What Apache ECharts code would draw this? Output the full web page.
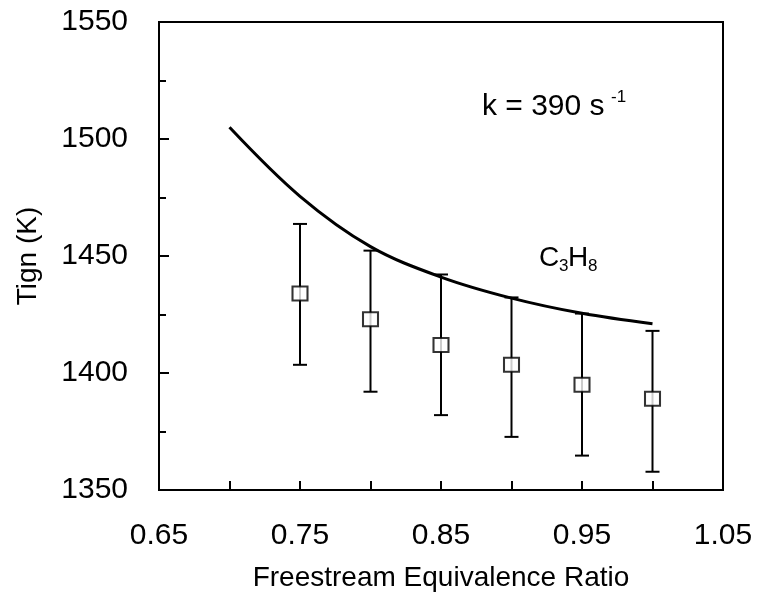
<!DOCTYPE html>
<html>
<head>
<meta charset="utf-8">
<script src="https://cdn.jsdelivr.net/npm/echarts@6/dist/echarts.min.js"></script>
<style>html,body{margin:0;padding:0;background:#fff;}#c{width:768px;height:602px;}</style>
</head>
<body>
<div id="c"></div>
<script>
// Measured data (freestream equivalence ratio vs ignition temperature)
const phi = [0.75, 0.80, 0.85, 0.90, 0.95, 1.00];
const tignMean = [1434, 1423, 1412, 1403.5, 1395, 1389];
const tignLow = [1403.5, 1392, 1382, 1372.7, 1364.7, 1357.8];
const tignHigh = [1463.7, 1452.3, 1442.1, 1432.3, 1425.4, 1418];
// Computed curve
const modelPhi = [0.70, 0.75, 0.80, 0.85, 0.90, 0.95, 1.00];
const modelTign = [1505, 1475.5, 1454, 1441, 1432, 1425.5, 1421];
// Axes
const xMin = 0.65, xMax = 1.05, xStep = 0.05;
const yMin = 1350, yMax = 1550, yStep = 50;
const xTitle = 'Freestream Equivalence Ratio';
const yTitle = 'Tign (K)';

const FONT = '"Liberation Sans", Arial, Helvetica, sans-serif';
const chart = echarts.init(document.getElementById('c'), null, {renderer: 'canvas'});

const option = {
  backgroundColor: '#fff',
  animation: false,
  grid: {left: 159, right: 45, top: 22, bottom: 112, show: true, borderColor: '#000', borderWidth: 2, backgroundColor: 'transparent'},
  xAxis: {
    type: 'value', min: xMin, max: xMax, interval: xStep,
    name: xTitle, nameLocation: 'middle', nameGap: 74,
    nameTextStyle: {fontSize: 28, color: '#000', fontFamily: FONT},
    axisLine: {show: true, lineStyle: {color: '#000', width: 2}},
    axisTick: {show: true, inside: true, length: 9, lineStyle: {color: '#000', width: 2}},
    splitLine: {show: false},
    axisLabel: {
      margin: 31, fontSize: 30, color: '#000', fontFamily: FONT,
      formatter: function (v) {
        const k = Math.round(v * 100);
        return (k % 10 === 5) ? (k / 100).toFixed(2) : '';
      }
    }
  },
  yAxis: {
    type: 'value', min: yMin, max: yMax, interval: yStep,
    name: yTitle, nameLocation: 'middle', nameGap: 117,
    nameTextStyle: {fontSize: 28, color: '#000', fontFamily: FONT},
    axisLine: {show: true, lineStyle: {color: '#000', width: 2}},
    axisTick: {show: true, inside: true, length: 10, lineStyle: {color: '#000', width: 2}},
    minorTick: {show: true, splitNumber: 2, length: 7, lineStyle: {color: '#000', width: 2}},
    splitLine: {show: false},
    minorSplitLine: {show: false},
    axisLabel: {margin: 31, fontSize: 30, color: '#000', fontFamily: FONT,
      formatter: function (v) { return String(Math.round(v)); }}
  },
  series: [
    {
      type: 'line', smooth: 0.35, showSymbol: false,
      data: modelPhi.map((x, i) => [x, modelTign[i]]),
      lineStyle: {color: '#000', width: 3}
    },
    {
      type: 'custom',
      data: phi.map((x, i) => [x, tignLow[i], tignHigh[i]]),
      renderItem: function (params, api) {
        const x = api.value(0);
        const lo = api.coord([x, api.value(1)]);
        const hi = api.coord([x, api.value(2)]);
        const hw = 7;
        const st = {stroke: '#000', lineWidth: 2, fill: null};
        return {
          type: 'group',
          children: [
            {type: 'line', shape: {x1: lo[0], y1: lo[1], x2: hi[0], y2: hi[1]}, style: st},
            {type: 'line', shape: {x1: lo[0] - hw, y1: lo[1], x2: lo[0] + hw, y2: lo[1]}, style: st},
            {type: 'line', shape: {x1: hi[0] - hw, y1: hi[1], x2: hi[0] + hw, y2: hi[1]}, style: st}
          ]
        };
      },
      z: 2
    },
    {
      type: 'scatter', symbol: 'rect', symbolSize: [15, 14],
      data: phi.map((x, i) => [x, tignMean[i]]),
      itemStyle: {color: '#fff', borderColor: '#000', borderWidth: 2},
      z: 3
    }
  ],
  graphic: [
    {type: 'text', left: 482, top: 92, style: {text: 'k = 390 s', fontSize: 30, fill: '#000', fontFamily: FONT}},
    {type: 'text', left: 611, top: 89, style: {text: '-1', fontSize: 17, fill: '#000', fontFamily: FONT}},
    {type: 'text', left: 539, top: 244, style: {text: 'C', fontSize: 28, fill: '#000', fontFamily: FONT}},
    {type: 'text', left: 559, top: 258, style: {text: '3', fontSize: 17, fill: '#000', fontFamily: FONT}},
    {type: 'text', left: 568, top: 244, style: {text: 'H', fontSize: 28, fill: '#000', fontFamily: FONT}},
    {type: 'text', left: 588, top: 258, style: {text: '8', fontSize: 17, fill: '#000', fontFamily: FONT}}
  ]
};
chart.setOption(option);
</script>
</body>
</html>
